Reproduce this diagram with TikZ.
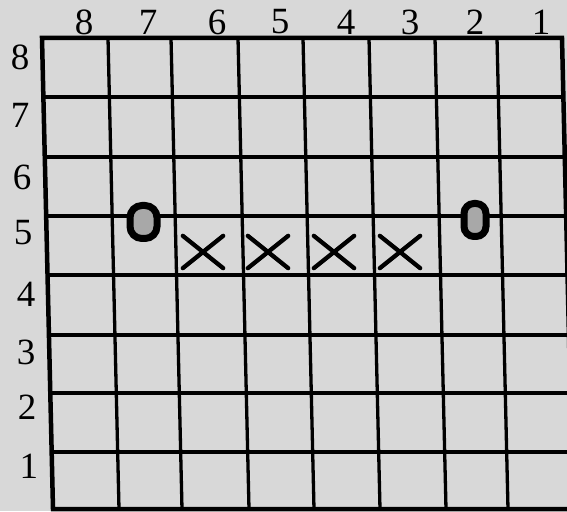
\documentclass[tikz,border=0pt]{standalone}
\usepackage{fontspec}
\setmainfont{Liberation Serif}
\usetikzlibrary{shapes.misc}
\definecolor{paper}{RGB}{216,216,216}
\definecolor{stone}{RGB}{168,168,168}
\begin{document}
\begin{tikzpicture}[x=1pt,y=1pt,
  gridline/.style={line width=3.3pt},
  border/.style={line width=4.5pt},
  lab/.style={font=\fontsize{37}{37}\selectfont, inner sep=0pt},
  stonebox/.style={draw=black, fill=stone, line width=7pt, rounded corners=12pt, inner sep=0pt},
  xmark/.style={cross out, draw=black, line width=4.3pt, line cap=round,
    minimum width=36pt, minimum height=28pt, inner sep=0pt}
]
\fill[paper] (0,0) rectangle (567,511);
\useasboundingbox (0,0) rectangle (567,511);
\begin{scope}[shift={(0,511)}, yscale=-1]
  % board
  \begin{scope}[shift={(42,38)}, xslant=0.02335]
    \foreach \u in {66,129,196,261,327,393,455} \draw[gridline] (\u,0) -- (\u,471);
    \foreach \v in {59,119,178,237,297,355,414} \draw[gridline] (0,\v) -- (520,\v);
    \draw[border] (0,0) rectangle (520,471);
  \end{scope}
  % column labels
  \node[lab] (c8) at (84,22) {8};
  \node[lab] (c7) at (148,22) {7};
  \node[lab] (c6) at (217,22) {6};
  \node[lab] (c5) at (280,22) {5};
  \node[lab] (c4) at (346,22) {4};
  \node[lab] (c3) at (410,22) {3};
  \node[lab] (c2) at (475,22) {2};
  \node[lab] (c1) at (541,22) {1};
  % row labels
  \node[lab] (r8) at (20,57) {8};
  \node[lab] (r7) at (20,115) {7};
  \node[lab] (r6) at (22,177) {6};
  \node[lab] (r5) at (23,233) {5};
  \node[lab] (r4) at (26,294) {4};
  \node[lab] (r3) at (26,352) {3};
  \node[lab] (r2) at (27,407) {2};
  \node[lab] (r1) at (29,466) {1};
  % stones
  \node[stonebox, minimum width=27pt, minimum height=33pt] (s7) at (143.5,222) {};
  \node[stonebox, minimum width=22pt, minimum height=33pt, rounded corners=10pt] (s2) at (475,220) {};
  % crosses
  \node[xmark] (x6) at (203,252) {};
  \node[xmark] (x5) at (268,252) {};
  \node[xmark] (x4) at (334,252) {};
  \node[xmark] (x3) at (400,252) {};
\end{scope}
\end{tikzpicture}
\end{document}
